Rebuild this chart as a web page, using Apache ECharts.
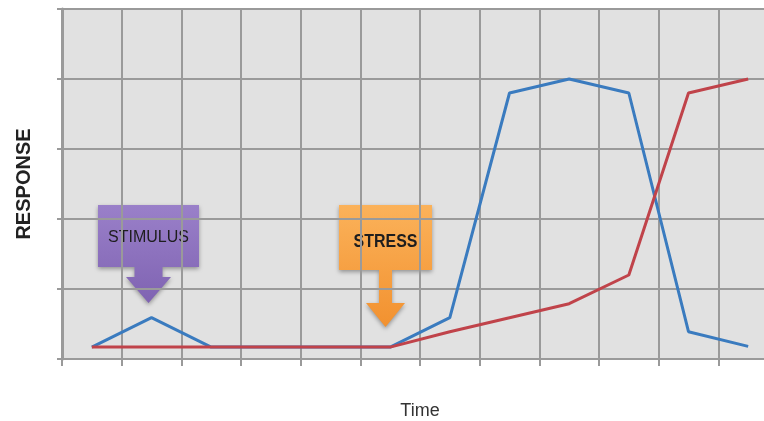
<!DOCTYPE html>
<html>
<head>
<meta charset="utf-8">
<script src="https://cdn.jsdelivr.net/npm/echarts@6/dist/echarts.min.js"></script>
<style>html,body{margin:0;padding:0;background:#fff;overflow:hidden}#c{width:764px;height:421px}</style>
</head>
<body>
<div id="c"></div>
<script>
var categories = ['1','2','3','4','5','6','7','8','9','10','11','12'];
var stimulusResponse = [0.17, 0.59, 0.17, 0.17, 0.17, 0.17, 0.59, 3.8, 4.0, 3.8, 0.39, 0.18];
var stressResponse   = [0.17, 0.17, 0.17, 0.17, 0.17, 0.17, 0.39, 0.59, 0.79, 1.2, 3.8, 4.0];
var xAxisName = 'Time';
var yAxisName = 'RESPONSE';

var chart = echarts.init(document.getElementById('c'), null, {renderer: 'canvas'});

function callout(x, y, w, h, shaftW, headW, shaftH, headH, colTop, colBot, text, font, scaleX, textY) {
  var cx = x + w / 2;
  return {
    type: 'group',
    children: [
      {
        type: 'polygon',
        shape: {points: [
          [x, y], [x + w, y], [x + w, y + h],
          [cx + shaftW / 2, y + h], [cx + shaftW / 2, y + h + shaftH],
          [cx + headW / 2, y + h + shaftH], [cx, y + h + shaftH + headH],
          [cx - headW / 2, y + h + shaftH], [cx - shaftW / 2, y + h + shaftH],
          [cx - shaftW / 2, y + h], [x, y + h]
        ]},
        style: {
          fill: new echarts.graphic.LinearGradient(0, 0, 0, 1, [
            {offset: 0, color: colTop}, {offset: 1, color: colBot}
          ]),
          shadowBlur: 4, shadowColor: 'rgba(0,0,0,0.35)', shadowOffsetY: 2
        }
      },
      {
        type: 'text',
        x: cx, y: textY,
        scaleX: scaleX,
        style: {
          x: 0, y: 0, text: text, align: 'center', verticalAlign: 'middle',
          font: font,
          fill: '#1e1e1e'
        }
      }
    ]
  };
}

chart.setOption({
  animation: false,
  backgroundColor: '#ffffff',
  grid: {left: 62, top: 9, bottom: 62, right: -14, outerBoundsMode: 'none', containLabel: false,
         show: true, backgroundColor: '#e1e1e1', borderWidth: 0},
  xAxis: {
    type: 'category',
    data: categories,
    boundaryGap: true,
    name: xAxisName,
    nameLocation: 'middle',
    nameGap: 43,
    nameTextStyle: {fontSize: 18, color: '#333', fontFamily: 'Liberation Sans, Arial, sans-serif'},
    axisLine: {show: true, lineStyle: {color: '#9a9a9a', width: 2}},
    axisTick: {show: true, length: 7, lineStyle: {color: '#9a9a9a', width: 2}},
    axisLabel: {show: false},
    splitLine: {show: true, lineStyle: {color: '#9a9a9a', width: 2}}
  },
  yAxis: {
    type: 'value',
    min: 0, max: 5, interval: 1,
    name: yAxisName,
    nameLocation: 'middle',
    nameRotate: 90,
    nameGap: 28,
    nameTextStyle: {fontSize: 20, fontWeight: 'bold', color: '#222', fontFamily: 'Liberation Sans, Arial, sans-serif'},
    axisLine: {show: true, lineStyle: {color: '#9a9a9a', width: 3}},
    axisTick: {show: true, length: 5, lineStyle: {color: '#9a9a9a', width: 2}},
    axisLabel: {show: false},
    splitLine: {show: true, lineStyle: {color: '#9a9a9a', width: 2}}
  },
  series: [
    {type: 'line', data: stimulusResponse, symbol: 'none', lineStyle: {color: '#3a7bbf', width: 3}, itemStyle: {color: '#3a7bbf'}},
    {type: 'line', data: stressResponse, symbol: 'none', lineStyle: {color: '#c0434a', width: 3}, itemStyle: {color: '#c0434a'}}
  ],
  graphic: [
    callout(98, 205, 101, 62, 28, 45, 10, 26, '#9a80c9', '#7f63b2', 'STIMULUS',
            '16px "Liberation Sans", Arial, sans-serif', 1, 238),
    callout(339, 205, 93, 65, 13, 39, 33, 24, '#fbb25a', '#f2912f', 'STRESS',
            'bold 19px "Liberation Sans", Arial, sans-serif', 0.84, 242)
  ]
});
</script>
</body>
</html>
